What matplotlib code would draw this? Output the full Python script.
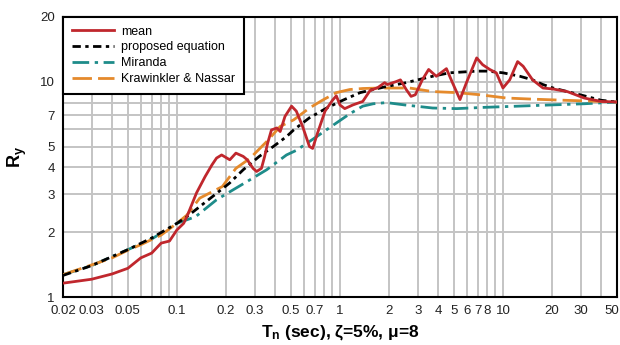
import matplotlib
matplotlib.use("Agg")
import matplotlib.pyplot as plt
from matplotlib.ticker import FixedLocator, NullFormatter, LogLocator
from matplotlib.transforms import ScaledTranslation

plt.rcParams['font.family'] = ['Liberation Sans', 'DejaVu Sans']
plt.rcParams['mathtext.fontset'] = 'custom'
plt.rcParams['mathtext.bf'] = 'Liberation Sans:bold'
plt.rcParams['mathtext.rm'] = 'Liberation Sans'

# mean spectrum from the record set
mean_T = [0.02, 0.03, 0.04, 0.05, 0.06, 0.07, 0.08, 0.09, 0.10, 0.11, 0.115, 0.132,
          0.149, 0.164, 0.175, 0.188, 0.211, 0.23, 0.255, 0.27, 0.293, 0.308, 0.33,
          0.345, 0.36, 0.38, 0.41, 0.43, 0.46, 0.505, 0.54, 0.59, 0.65, 0.68, 0.73,
          0.81, 0.90, 0.95, 1.0, 1.07, 1.2, 1.38, 1.53, 1.71, 1.88, 1.95, 2.2, 2.35,
          2.55, 2.73, 2.9, 3.2, 3.5, 3.9, 4.5, 4.9, 5.45, 5.97, 6.9, 7.5, 8.3, 9.1,
          10.0, 11.0, 12.3, 13.3, 15.2, 17.6, 20.3, 24.8, 31.5, 40.0, 50.0]
mean_R = [1.16, 1.21, 1.28, 1.36, 1.52, 1.60, 1.78, 1.82, 2.05, 2.2, 2.36, 3.05,
          3.63, 4.11, 4.42, 4.57, 4.34, 4.66, 4.5, 4.34, 3.96, 3.83, 3.96,
          4.49, 5.18, 5.97, 6.1, 5.87, 6.9, 7.7, 7.3, 6.2, 5.0, 4.9, 5.8,
          7.3, 8.2, 8.6, 7.8, 7.5, 7.8, 8.1, 9.1, 9.4, 9.9, 9.7, 10.0, 10.2,
          9.2, 8.55, 8.7, 10.2, 11.4, 10.6, 11.5, 9.9, 8.26, 9.9, 12.9, 12.0, 11.4, 11.0,
          9.35, 10.2, 12.4, 11.8, 10.2, 9.35, 9.25, 9.0, 8.4, 8.1, 8.05]

# proposed equation
prop_T = [0.02, 0.03, 0.05, 0.07, 0.10, 0.115, 0.138, 0.175, 0.21, 0.255, 0.32, 0.39,
          0.47, 0.52, 0.65, 0.83, 1.04, 1.33, 1.6, 1.93, 2.5, 3.7, 4.7, 6.9, 8.0,
          10.0, 12.7, 15.2, 17.6, 20.3, 24.8, 31.5, 40.0, 50.0]
prop_R = [1.26, 1.40, 1.66, 1.88, 2.2, 2.36, 2.63, 3.03, 3.38, 3.9, 4.5, 5.0,
          5.56, 5.97, 6.8, 7.55, 8.2, 8.9, 9.2, 9.5, 9.87, 10.6, 11.0, 11.2, 11.2,
          11.0, 10.6, 10.2, 9.7, 9.35, 9.0, 8.6, 8.2, 8.05]

# Miranda
mir_T = [0.02, 0.03, 0.05, 0.07, 0.10, 0.13, 0.175, 0.22, 0.28, 0.355, 0.47, 0.54,
         0.72, 0.95, 1.15, 1.38, 1.6, 1.93, 2.5, 3.7, 5.2, 7.6, 12.3, 19.6, 31.5, 50.0]
mir_R = [1.27, 1.40, 1.66, 1.86, 2.2, 2.36, 2.83, 3.14, 3.5, 3.9, 4.57, 4.8,
         5.56, 6.43, 7.1, 7.7, 7.9, 8.0, 7.8, 7.55, 7.5, 7.6, 7.7, 7.8, 7.9, 8.05]

# Krawinkler & Nassar
kn_T = [0.02, 0.03, 0.04, 0.05, 0.06, 0.08, 0.10, 0.115, 0.138, 0.19, 0.23, 0.28,
        0.356, 0.43, 0.52, 0.65, 0.78, 0.95, 1.15, 1.38, 1.75, 2.67, 3.7, 5.2,
        7.2, 10.5, 15.2, 24.0, 40.0, 50.0]
kn_R = [1.27, 1.41, 1.52, 1.65, 1.75, 1.94, 2.2, 2.4, 2.88, 3.26, 3.96, 4.4,
        5.28, 6.2, 6.65, 7.55, 8.2, 8.9, 9.2, 9.3, 9.35, 9.35, 9.0, 8.9,
        8.7, 8.4, 8.3, 8.2, 8.1, 8.05]

x_ticks = [0.02, 0.03, 0.05, 0.1, 0.2, 0.3, 0.5, 0.7, 1, 2, 3, 4, 5, 6, 7, 8, 10, 20, 30, 50]
x_tick_labels = ["0.02", "0.03", "0.05", "0.1", "0.2", "0.3", "0.5", "0.7", "1", "2", "3",
                 "4", "5", "6", "7", "8", "10", "20", "30", "50"]
y_ticks = [1, 2, 3, 4, 5, 7, 10, 20]
y_tick_labels = ["1", "2", "3", "4", "5", "7", "10", "20"]

fig = plt.figure(figsize=(6.2, 3.45), dpi=100)
ax = fig.add_axes([0.1016, 0.139, 0.8934, 0.812])

ax.plot(mean_T, mean_R, color='#C0272D', lw=2.0, label='mean', zorder=5)
ax.plot(prop_T, prop_R, color='black', lw=2.0, dashes=(3, 1.6, 1.2, 1.6), label='proposed equation', zorder=4)
ax.plot(mir_T, mir_R, color='#1E8C8A', lw=2.0, dashes=(6, 2, 1.2, 2), label='Miranda', zorder=3)
ax.plot(kn_T, kn_R, color='#E58A2C', lw=2.0, dashes=(7, 2.2), label='Krawinkler & Nassar', zorder=3)

ax.set_xscale('log')
ax.set_yscale('log')
ax.set_xlim(0.02, 50)
ax.set_ylim(1, 20)

ax.xaxis.set_major_locator(FixedLocator(x_ticks))
ax.set_xticklabels(x_tick_labels)
ax.xaxis.set_minor_locator(LogLocator(base=10, subs=range(1, 10), numticks=20))
ax.xaxis.set_minor_formatter(NullFormatter())
ax.yaxis.set_major_locator(FixedLocator(y_ticks))
ax.set_yticklabels(y_tick_labels)
ax.yaxis.set_minor_locator(LogLocator(base=10, subs=range(1, 10), numticks=20))
ax.yaxis.set_minor_formatter(NullFormatter())

ax.grid(True, which='both', color='#C4C4C4', lw=1.4, zorder=0)
ax.set_axisbelow(True)
ax.tick_params(which='both', length=0, labelsize=9.5, colors='#222222', pad=6)

# keep the last period label inside the canvas
last = ax.get_xticklabels()[-1]
last.set_transform(last.get_transform() + ScaledTranslation(-4 / 72, 0, fig.dpi_scale_trans))

for s in ax.spines.values():
    s.set_linewidth(1.5)
    s.set_color('black')

ax.set_xlabel(r'$\mathbf{T_n}$ (sec), ζ=5%, μ=8', fontsize=12.5, fontweight='bold', labelpad=4)
ax.set_ylabel(r'$\mathbf{R_y}$', fontsize=13, labelpad=8)

leg = ax.legend(loc='upper left', bbox_to_anchor=(0, 1), borderaxespad=0, fontsize=9,
                handlelength=3.4, handletextpad=0.55, labelspacing=0.3, fancybox=False,
                framealpha=1, edgecolor='black', borderpad=0.7)
leg.get_frame().set_linewidth(1.5)

fig.savefig('out.png', dpi=100)
